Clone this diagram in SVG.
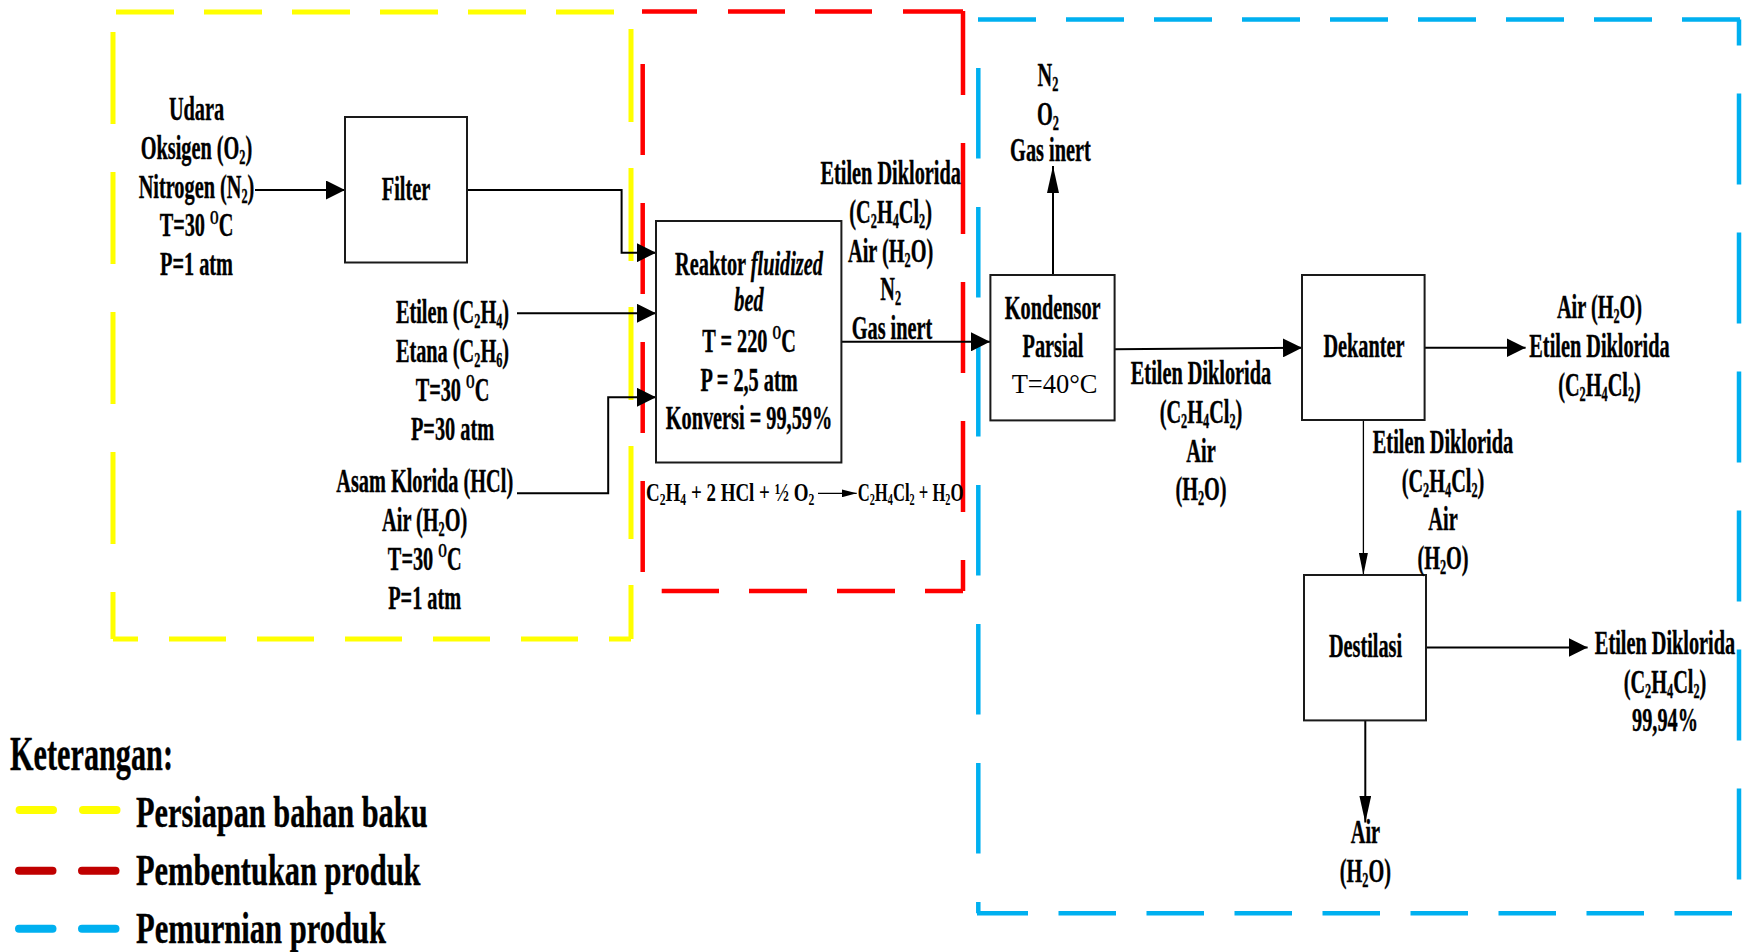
<svg xmlns="http://www.w3.org/2000/svg" width="1742" height="952" viewBox="0 0 1742 952">
<defs>
<style>
.t{font-family:"Liberation Serif","Times New Roman",serif;font-weight:bold;font-size:33px;text-anchor:middle;fill:#000;stroke:#000;stroke-width:0.4}
.n{font-family:"Liberation Serif","Times New Roman",serif;font-weight:normal;font-size:26.5px;text-anchor:middle;fill:#000}
.eq{font-family:"Liberation Serif","Times New Roman",serif;font-weight:bold;font-size:26px;fill:#000}
.lg{font-family:"Liberation Serif","Times New Roman",serif;font-weight:bold;fill:#000;stroke:#000;stroke-width:0.4}
.s{font-size:20px}
.es{font-size:16px}
.sup{font-size:18px}
.box{fill:#fff;stroke:#1a1a1a;stroke-width:2}
.con{fill:none;stroke:#000;stroke-width:2}
.thin{fill:none;stroke:#000;stroke-width:1.3}
.yl{stroke:#FFFF00;stroke-width:5;fill:none}
.rd{stroke:#FF0000;stroke-width:4.5;fill:none}
.bl{stroke:#00B0F0;stroke-width:4.5;fill:none}
.leg{stroke-width:8;stroke-linecap:round;fill:none}
</style>
<marker id="ah" markerUnits="userSpaceOnUse" markerWidth="19" markerHeight="19" viewBox="0 0 19 19" refX="19" refY="9.5" orient="auto"><path d="M0,0 L19,9.5 L0,19 z" fill="#000"/></marker>
<marker id="av" markerUnits="userSpaceOnUse" markerWidth="27" markerHeight="12" viewBox="0 0 27 12" refX="27" refY="6" orient="auto"><path d="M0,0 L27,6 L0,12 z" fill="#000"/></marker>
<marker id="av2" markerUnits="userSpaceOnUse" markerWidth="22" markerHeight="9" viewBox="0 0 22 9" refX="22" refY="4.5" orient="auto"><path d="M0,0 L22,4.5 L0,9 z" fill="#000"/></marker>
<marker id="ae" markerUnits="userSpaceOnUse" markerWidth="15" markerHeight="8" viewBox="0 0 15 8" refX="15" refY="4" orient="auto"><path d="M0,0 L15,4 L0,8 z" fill="#000"/></marker>
</defs>
<rect width="1742" height="952" fill="#fff"/>

<g id="regions">
  <g id="region-persiapan">
    <line class="yl" x1="116" y1="12" x2="614" y2="12" stroke-dasharray="58 30"/>
    <line class="yl" x1="113" y1="32" x2="113" y2="639" stroke-dasharray="92 48"/>
    <line class="yl" x1="113" y1="639" x2="631" y2="639" stroke-dasharray="57 31" stroke-dashoffset="32"/>
    <line class="yl" x1="631" y1="639" x2="631" y2="27" stroke-dasharray="93 46" stroke-dashoffset="39"/>
  </g>
  <g id="region-pembentukan">
    <line class="rd" x1="642" y1="11.4" x2="963" y2="11.4" stroke-dasharray="55 31 57 30 57 31 60"/>
    <line class="rd" x1="642.7" y1="64" x2="642.7" y2="573" stroke-dasharray="91 48"/>
    <line class="rd" x1="963" y1="591" x2="963" y2="11" stroke-dasharray="91 48" stroke-dashoffset="60"/>
    <line class="rd" x1="963" y1="591" x2="661.7" y2="591" stroke-dasharray="38 30 58 30 58 30 58"/>
  </g>
  <g id="region-pemurnian">
    <line class="bl" x1="978" y1="19.5" x2="1740" y2="19.5" stroke-dasharray="58 30"/>
    <line class="bl" x1="978.3" y1="68" x2="978.3" y2="913.3" stroke-dasharray="90.5 48.5"/>
    <line class="bl" x1="977" y1="913.3" x2="1739" y2="913.3" stroke-dasharray="57.5 30.5" stroke-dashoffset="6.5"/>
    <line class="bl" x1="1739" y1="19.5" x2="1739" y2="913" stroke-dasharray="91 48" stroke-dashoffset="65"/>
  </g>
</g>

<g id="connectors">
  <line class="con" x1="255" y1="190" x2="345" y2="190" marker-end="url(#ah)"/>
  <path class="con" d="M467,190 H621.6 V252.7 H656" marker-end="url(#ah)"/>
  <line class="con" x1="517" y1="313.3" x2="656" y2="313.3" marker-end="url(#ah)"/>
  <path class="con" d="M517,493.3 H608.2 V397.3 H656" marker-end="url(#ah)"/>
  <line class="con" x1="841.4" y1="341.8" x2="990" y2="341.8" marker-end="url(#ah)"/>
  <line class="con" x1="1053" y1="275" x2="1053" y2="166" marker-end="url(#av)"/>
  <line class="con" x1="1114.6" y1="349.3" x2="1302" y2="347.7" marker-end="url(#ah)"/>
  <line class="con" x1="1424.7" y1="347.7" x2="1525.6" y2="347.7" marker-end="url(#ah)"/>
  <line class="thin" x1="1363.4" y1="420" x2="1363.4" y2="575" marker-end="url(#av2)"/>
  <line class="con" x1="1426" y1="647.5" x2="1587.6" y2="647.5" marker-end="url(#ah)"/>
  <line class="con" x1="1365.3" y1="720.4" x2="1365.3" y2="822.5" marker-end="url(#av)"/>
  <line class="thin" x1="818" y1="493.3" x2="856.7" y2="493.3" marker-end="url(#ae)"/>
</g>

<g id="node-filter">
  <rect class="box" x="345" y="117" width="122" height="145.5"/>
  <text class="t" x="406" y="200" transform="matrix(.615 0 0 1 156.31 0)">Filter</text>
</g>
<g id="node-reaktor">
  <rect class="box" x="656" y="221" width="185.4" height="241.5"/>
  <text class="t" x="749" y="275" transform="matrix(.615 0 0 1 288.37 0)">Reaktor <tspan font-style="italic">fluidized</tspan></text>
  <text class="t" x="749" y="310.7" font-style="italic" transform="matrix(.615 0 0 1 288.37 0)">bed</text>
  <text class="t" x="749" y="351.8" transform="matrix(.615 0 0 1 288.37 0)">T = 220 <tspan class="sup" dy="-12.5">O</tspan><tspan dy="12.5">C</tspan></text>
  <text class="t" x="749" y="391" transform="matrix(.615 0 0 1 288.37 0)">P = 2,5 atm</text>
  <text class="t" x="749" y="428.6" transform="matrix(.615 0 0 1 288.37 0)">Konversi = 99,59%</text>
</g>
<g id="node-kondensor">
  <rect class="box" x="990.4" y="275" width="124.2" height="145.4"/>
  <text class="t" x="1052.7" y="319" transform="matrix(.615 0 0 1 405.29 0)">Kondensor</text>
  <text class="t" x="1053" y="357" transform="matrix(.615 0 0 1 405.41 0)">Parsial</text>
  <text class="n" x="1054.6" y="393">T=40°C</text>
</g>
<g id="node-dekanter">
  <rect class="box" x="1302" y="275" width="122.6" height="145"/>
  <text class="t" x="1364" y="357.3" transform="matrix(.615 0 0 1 525.14 0)">Dekanter</text>
</g>
<g id="node-destilasi">
  <rect class="box" x="1304" y="575" width="122" height="145.4"/>
  <text class="t" x="1365.5" y="657" transform="matrix(.615 0 0 1 525.72 0)">Destilasi</text>
</g>

<g id="label-udara">
  <text class="t" x="196.5" y="120.5" transform="matrix(.615 0 0 1 75.65 0)">Udara</text>
  <text class="t" x="196.5" y="159" transform="matrix(.615 0 0 1 75.65 0)">Oksigen (O<tspan class="s" dy="5">2</tspan><tspan dy="-5">)</tspan></text>
  <text class="t" x="196.5" y="198" transform="matrix(.615 0 0 1 75.65 0)">Nitrogen (N<tspan class="s" dy="5">2</tspan><tspan dy="-5">)</tspan></text>
  <text class="t" x="196.5" y="236.5" transform="matrix(.615 0 0 1 75.65 0)">T=30 <tspan class="sup" dy="-12.5">O</tspan><tspan dy="12.5">C</tspan></text>
  <text class="t" x="196.5" y="275" transform="matrix(.615 0 0 1 75.65 0)">P=1 atm</text>
</g>
<g id="label-etilen">
  <text class="t" x="452.5" y="323.3" transform="matrix(.615 0 0 1 174.21 0)">Etilen (C<tspan class="s" dy="5">2</tspan><tspan dy="-5">H</tspan><tspan class="s" dy="5">4</tspan><tspan dy="-5">)</tspan></text>
  <text class="t" x="452.5" y="361.7" transform="matrix(.615 0 0 1 174.21 0)">Etana (C<tspan class="s" dy="5">2</tspan><tspan dy="-5">H</tspan><tspan class="s" dy="5">6</tspan><tspan dy="-5">)</tspan></text>
  <text class="t" x="452.5" y="401" transform="matrix(.615 0 0 1 174.21 0)">T=30 <tspan class="sup" dy="-12.5">O</tspan><tspan dy="12.5">C</tspan></text>
  <text class="t" x="452.5" y="440.5" transform="matrix(.615 0 0 1 174.21 0)">P=30 atm</text>
</g>
<g id="label-hcl">
  <text class="t" x="424.7" y="492.3" transform="matrix(.615 0 0 1 163.51 0)">Asam Klorida (HCl)</text>
  <text class="t" x="424.7" y="530.7" transform="matrix(.615 0 0 1 163.51 0)">Air (H<tspan class="s" dy="5">2</tspan><tspan dy="-5">O)</tspan></text>
  <text class="t" x="424.7" y="570" transform="matrix(.615 0 0 1 163.51 0)">T=30 <tspan class="sup" dy="-12.5">O</tspan><tspan dy="12.5">C</tspan></text>
  <text class="t" x="424.7" y="609.5" transform="matrix(.615 0 0 1 163.51 0)">P=1 atm</text>
</g>
<g id="label-reaktor-out">
  <text class="t" x="890.7" y="184" transform="matrix(.615 0 0 1 342.92 0)">Etilen Diklorida</text>
  <text class="t" x="890.7" y="223" transform="matrix(.615 0 0 1 342.92 0)">(C<tspan class="s" dy="5">2</tspan><tspan dy="-5">H</tspan><tspan class="s" dy="5">4</tspan><tspan dy="-5">Cl</tspan><tspan class="s" dy="5">2</tspan><tspan dy="-5">)</tspan></text>
  <text class="t" x="890.7" y="262.5" transform="matrix(.615 0 0 1 342.92 0)">Air (H<tspan class="s" dy="5">2</tspan><tspan dy="-5">O)</tspan></text>
  <text class="t" x="890.7" y="300.5" transform="matrix(.615 0 0 1 342.92 0)">N<tspan class="s" dy="5">2</tspan></text>
  <text class="t" x="892" y="338.8" transform="matrix(.615 0 0 1 343.42 0)">Gas inert</text>
</g>
<g id="label-kondensor-top">
  <text class="t" x="1048" y="85.7" transform="matrix(.615 0 0 1 403.48 0)">N<tspan class="s" dy="5">2</tspan></text>
  <text class="t" x="1048" y="125" transform="matrix(.615 0 0 1 403.48 0)">O<tspan class="s" dy="5">2</tspan></text>
  <text class="t" x="1050.4" y="160.7" transform="matrix(.615 0 0 1 404.40 0)">Gas inert</text>
</g>
<g id="label-kondensor-out">
  <text class="t" x="1201" y="384.5" transform="matrix(.615 0 0 1 462.39 0)">Etilen Diklorida</text>
  <text class="t" x="1201" y="423" transform="matrix(.615 0 0 1 462.39 0)">(C<tspan class="s" dy="5">2</tspan><tspan dy="-5">H</tspan><tspan class="s" dy="5">4</tspan><tspan dy="-5">Cl</tspan><tspan class="s" dy="5">2</tspan><tspan dy="-5">)</tspan></text>
  <text class="t" x="1201" y="461.6" transform="matrix(.615 0 0 1 462.39 0)">Air</text>
  <text class="t" x="1201" y="500" transform="matrix(.615 0 0 1 462.39 0)">(H<tspan class="s" dy="5">2</tspan><tspan dy="-5">O)</tspan></text>
</g>
<g id="label-dekanter-out">
  <text class="t" x="1599.5" y="318.3" transform="matrix(.615 0 0 1 615.81 0)">Air (H<tspan class="s" dy="5">2</tspan><tspan dy="-5">O)</tspan></text>
  <text class="t" x="1599.5" y="356.7" transform="matrix(.615 0 0 1 615.81 0)">Etilen Diklorida</text>
  <text class="t" x="1599.5" y="396" transform="matrix(.615 0 0 1 615.81 0)">(C<tspan class="s" dy="5">2</tspan><tspan dy="-5">H</tspan><tspan class="s" dy="5">4</tspan><tspan dy="-5">Cl</tspan><tspan class="s" dy="5">2</tspan><tspan dy="-5">)</tspan></text>
</g>
<g id="label-dekanter-bottom">
  <text class="t" x="1443" y="453" transform="matrix(.615 0 0 1 555.56 0)">Etilen Diklorida</text>
  <text class="t" x="1443" y="492" transform="matrix(.615 0 0 1 555.56 0)">(C<tspan class="s" dy="5">2</tspan><tspan dy="-5">H</tspan><tspan class="s" dy="5">4</tspan><tspan dy="-5">Cl</tspan><tspan class="s" dy="5">2</tspan><tspan dy="-5">)</tspan></text>
  <text class="t" x="1443" y="530.5" transform="matrix(.615 0 0 1 555.56 0)">Air</text>
  <text class="t" x="1443" y="569" transform="matrix(.615 0 0 1 555.56 0)">(H<tspan class="s" dy="5">2</tspan><tspan dy="-5">O)</tspan></text>
</g>
<g id="label-destilasi-out">
  <text class="t" x="1665" y="654.2" transform="matrix(.615 0 0 1 641.03 0)">Etilen Diklorida</text>
  <text class="t" x="1665" y="693.5" transform="matrix(.615 0 0 1 641.03 0)">(C<tspan class="s" dy="5">2</tspan><tspan dy="-5">H</tspan><tspan class="s" dy="5">4</tspan><tspan dy="-5">Cl</tspan><tspan class="s" dy="5">2</tspan><tspan dy="-5">)</tspan></text>
  <text class="t" x="1665" y="731" transform="matrix(.615 0 0 1 641.03 0)">99,94%</text>
</g>
<g id="label-destilasi-bottom">
  <text class="t" x="1365.4" y="843" transform="matrix(.615 0 0 1 525.68 0)">Air</text>
  <text class="t" x="1365.4" y="882" transform="matrix(.615 0 0 1 525.68 0)">(H<tspan class="s" dy="5">2</tspan><tspan dy="-5">O)</tspan></text>
</g>
<g id="label-reaksi">
  <text class="eq" x="646" y="500.7" transform="matrix(.73 0 0 1 174.42 0)">C<tspan class="es" dy="4">2</tspan><tspan dy="-4">H</tspan><tspan class="es" dy="4">4</tspan><tspan dy="-4"> + 2 HCl + ½ O</tspan><tspan class="es" dy="4">2</tspan></text>
  <text class="eq" x="857.7" y="500.7" transform="matrix(.64 0 0 1 308.77 0)">C<tspan class="es" dy="4">2</tspan><tspan dy="-4">H</tspan><tspan class="es" dy="4">4</tspan><tspan dy="-4">Cl</tspan><tspan class="es" dy="4">2</tspan><tspan dy="-4"> + H</tspan><tspan class="es" dy="4">2</tspan><tspan dy="-4">O</tspan></text>
</g>

<g id="legend">
  <text class="lg" x="10" y="770" font-size="48" textLength="163" lengthAdjust="spacingAndGlyphs">Keterangan:</text>
  <line class="leg" x1="19.6" y1="810" x2="53" y2="810" stroke="#FFFF00"/>
  <line class="leg" x1="83" y1="810" x2="116.5" y2="810" stroke="#FFFF00"/>
  <text class="lg" x="136" y="826.7" font-size="45" textLength="291.5" lengthAdjust="spacingAndGlyphs">Persiapan bahan baku</text>
  <line class="leg" x1="19" y1="870.7" x2="52.5" y2="870.7" stroke="#C00000"/>
  <line class="leg" x1="82" y1="870.7" x2="115.5" y2="870.7" stroke="#C00000"/>
  <text class="lg" x="136" y="885" font-size="45" textLength="284.5" lengthAdjust="spacingAndGlyphs">Pembentukan produk</text>
  <line class="leg" x1="19" y1="928.7" x2="52.5" y2="928.7" stroke="#00B0F0"/>
  <line class="leg" x1="82" y1="928.7" x2="115.5" y2="928.7" stroke="#00B0F0"/>
  <text class="lg" x="136" y="943" font-size="45" textLength="250" lengthAdjust="spacingAndGlyphs">Pemurnian produk</text>
</g>
</svg>
